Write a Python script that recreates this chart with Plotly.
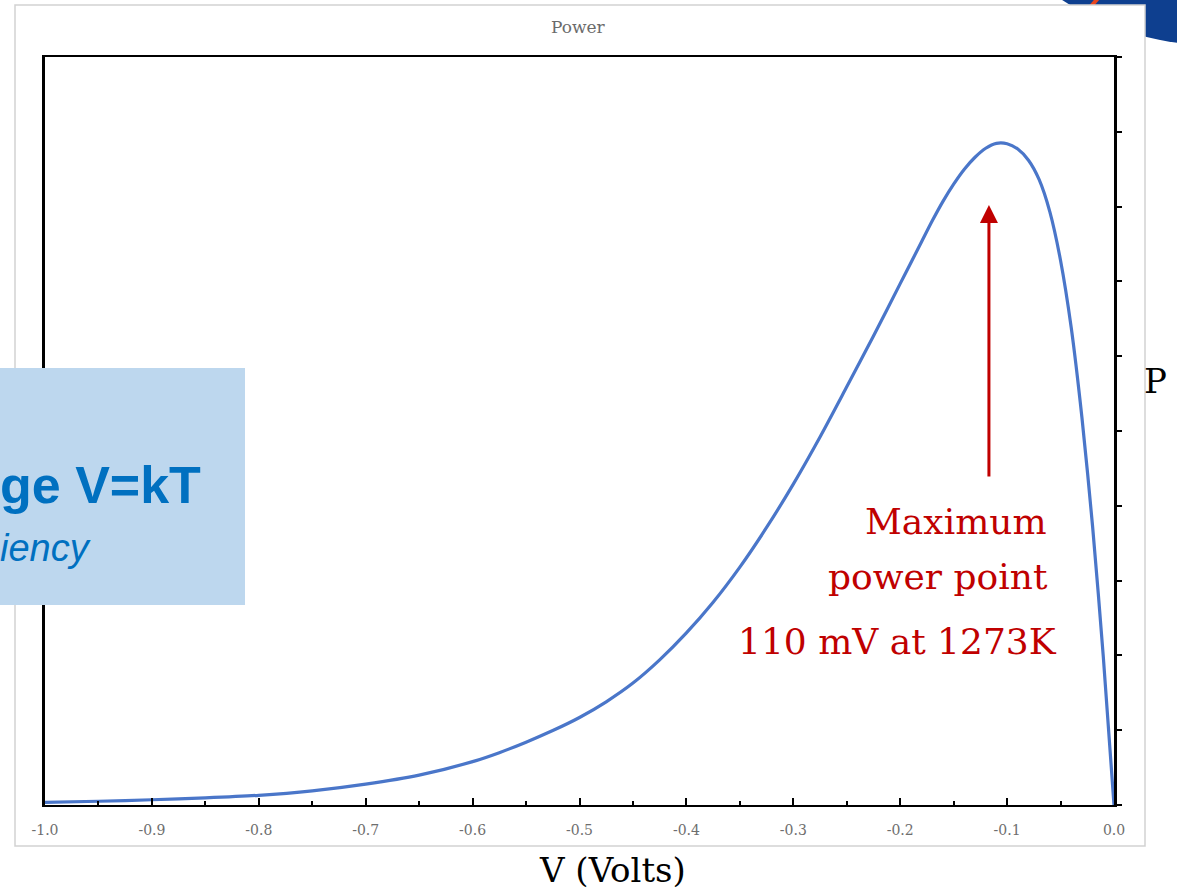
import plotly.graph_objects as go

# ---- data ----
voltage = [-1.0, -0.95, -0.9, -0.85, -0.8, -0.75, -0.7, -0.65, -0.6, -0.575,
           -0.55, -0.525, -0.5, -0.475, -0.45, -0.425, -0.4, -0.375, -0.35, -0.325,
           -0.3, -0.275, -0.25, -0.225, -0.2, -0.19, -0.18, -0.17, -0.16, -0.15,
           -0.14, -0.13, -0.12, -0.11, -0.10, -0.09, -0.08, -0.07, -0.06, -0.05,
           -0.04, -0.03, -0.02, -0.01, 0.0]
power = [0.035, 0.05, 0.07, 0.095, 0.13, 0.19, 0.28, 0.40, 0.58, 0.70,
         0.84, 0.995, 1.17, 1.38, 1.63, 1.94, 2.30, 2.71, 3.18, 3.71,
         4.29, 4.92, 5.59, 6.27, 6.97, 7.25, 7.53, 7.81, 8.07, 8.30,
         8.50, 8.66, 8.78, 8.845, 8.84, 8.77, 8.62, 8.36, 7.93, 7.28,
         6.38, 5.18, 3.72, 1.98, 0.0]

x_tickvals = [-1.0, -0.9, -0.8, -0.7, -0.6, -0.5, -0.4, -0.3, -0.2, -0.1, 0.0]
x_ticktext = ["-1.0", "-0.9", "-0.8", "-0.7", "-0.6", "-0.5", "-0.4", "-0.3", "-0.2", "-0.1", "0.0"]
y_tickvals = [0, 1, 2, 3, 4, 5, 6, 7, 8, 9, 10]

title_text = "Power"
x_label = "V (Volts)"
y_label = "P"
mpp_lines = ["Maximum", "power point", "110 mV at 1273K"]
box_line1 = "ge V=kT"
box_line2 = "iency"
mpp_voltage = -0.117

# ---- layout geometry (pixels) ----
W, H = 1177, 892
L, R, T, B = 45, 1114, 57, 805


def px(xpix):
    return (xpix - L) / (R - L)


def py(ypix):
    return (B - ypix) / (B - T)


fig = go.Figure()
fig.add_trace(go.Scatter(x=voltage, y=power, mode="lines",
                         line=dict(color="#4a76c9", width=3.2, shape="spline", smoothing=0.8),
                         hoverinfo="skip", showlegend=False))

shapes = []
# logo circle at top-right (behind the frame)
cx, cy, r = 1212, -227, 272
shapes.append(dict(type="circle", xref="paper", yref="paper", layer="below",
                   x0=px(cx - r), x1=px(cx + r), y0=py(cy + r), y1=py(cy - r),
                   fillcolor="#0e3f8f", line=dict(width=0)))
shapes.append(dict(type="line", xref="paper", yref="paper", layer="below",
                   x0=px(1086), y0=py(12), x1=px(1100), y1=py(-4),
                   line=dict(color="#e8461e", width=4)))
# white frame with light grey border
shapes.append(dict(type="rect", xref="paper", yref="paper", layer="below",
                   x0=px(15), x1=px(1145), y0=py(846), y1=py(5),
                   fillcolor="white", line=dict(color="#d2d2d2", width=1.5)))
# light blue overlay box on the left
shapes.append(dict(type="rect", xref="paper", yref="paper", layer="above",
                   x0=px(-5), x1=px(245), y0=py(605), y1=py(368),
                   fillcolor="#bdd7ee", line=dict(width=0)))


def note(text, xx, yy, xanchor, size, color, family="DejaVu Serif"):
    return dict(text=text, xref="paper", yref="paper", x=px(xx), y=py(yy),
                xanchor=xanchor, yanchor="middle", showarrow=False,
                font=dict(family=family, size=size, color=color))


annotations = [
    note(title_text, 578, 27, "center", 17, "#6b6b6b"),
    note(x_label, 612, 870, "center", 34, "black"),
    note(y_label, 1155, 381, "center", 34, "black"),
]
mpp_pos = [(1049, 521), (1050, 576), (1059, 641)]
for txt, (xx, yy) in zip(mpp_lines, mpp_pos):
    annotations.append(note(txt, xx, yy, "right", 36, "#c00000"))
# arrow pointing to the maximum power point
annotations.append(dict(text="", x=mpp_voltage, y=(B - 205) / 74.8, xref="x", yref="y",
                        showarrow=True, arrowhead=2, arrowsize=1.2, arrowwidth=3,
                        arrowcolor="#c00000", ax=0, ay=273))
annotations.append(note("<b>" + box_line1 + "</b>", 203, 485, "right", 52, "#0070c0",
                        family="Liberation Sans"))
annotations.append(note("<i>" + box_line2 + "</i>", 93, 548, "right", 38, "#0070c0",
                        family="Liberation Sans"))

fig.update_layout(
    width=W, height=H,
    margin=dict(l=L, r=W - R, t=T, b=H - B),
    paper_bgcolor="white",
    plot_bgcolor="rgba(0,0,0,0)",
    shapes=shapes,
    annotations=annotations,
    showlegend=False,
    xaxis=dict(range=[-1.0, 0.0], tickvals=x_tickvals, ticktext=x_ticktext,
               ticks="inside", ticklen=7, tickwidth=2, tickcolor="black",
               minor=dict(ticks="inside", dtick=0.05, ticklen=4, tickwidth=2, tickcolor="black"),
               showline=True, linecolor="black", linewidth=2, mirror=True,
               showgrid=False, zeroline=False, ticklabelstandoff=11,
               tickfont=dict(family="DejaVu Serif", size=14, color="#6e6e6e")),
    yaxis=dict(range=[0, 10], tickvals=y_tickvals, side="right",
               ticks="outside", ticklen=5, tickwidth=2, tickcolor="black",
               showticklabels=False, showline=True, linecolor="black", linewidth=2.5,
               mirror=True, showgrid=False, zeroline=False),
)

fig.write_html("out.html", config={"displayModeBar": False},
               post_script="document.body.style.margin='0px';")
